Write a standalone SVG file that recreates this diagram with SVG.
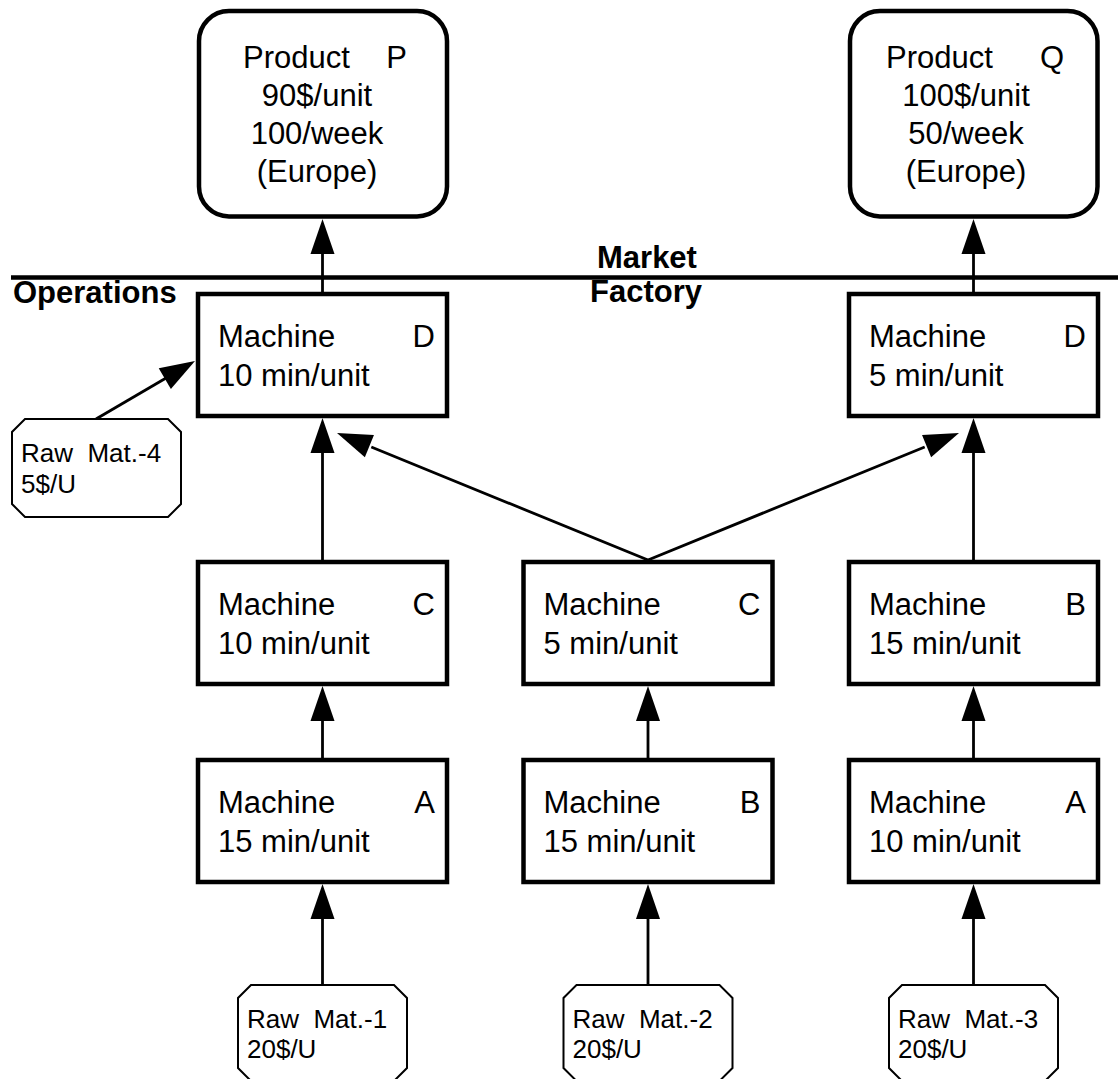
<svg xmlns="http://www.w3.org/2000/svg" width="1118" height="1079" viewBox="0 0 1118 1079">
<style>
.t{font-family:"Liberation Sans",Arial,sans-serif;font-size:31px;fill:#000}
.b{font-family:"Liberation Sans",Arial,sans-serif;font-size:31px;font-weight:bold;fill:#000}
.r{font-family:"Liberation Sans",Arial,sans-serif;font-size:26px;fill:#000;white-space:pre}
.box{fill:#fff;stroke:#000;stroke-width:4.5}
.oct{fill:#fff;stroke:#000;stroke-width:2}
.ln{stroke:#000;stroke-width:2.8;fill:none}
.ah{fill:#000;stroke:none}
.m{text-anchor:middle}
.e{text-anchor:end}
</style>
<rect width="1118" height="1079" fill="#fff"/>
<line x1="11" y1="277.5" x2="1118" y2="277.5" stroke="#000" stroke-width="4.5"/>
<text class="b" x="13" y="303">Operations</text>
<text class="b" x="597" y="268">Market</text>
<text class="b" x="590" y="302">Factory</text>

<g id="connectors">
<line class="ln" x1="322.5" y1="292" x2="322.5" y2="252"/>
<polygon class="ah" points="322.5,219 334.5,254 310.5,254"/>
<line class="ln" x1="973.5" y1="292" x2="973.5" y2="252"/>
<polygon class="ah" points="973.5,219 985.5,254 961.5,254"/>

<line class="ln" x1="322.5" y1="560" x2="322.5" y2="451"/>
<polygon class="ah" points="322.5,418 334.5,453 310.5,453"/>
<line class="ln" x1="322.5" y1="758" x2="322.5" y2="719"/>
<polygon class="ah" points="322.5,686 334.5,721 310.5,721"/>
<line class="ln" x1="322.5" y1="984" x2="322.5" y2="917"/>
<polygon class="ah" points="322.5,884 334.5,919 310.5,919"/>

<line class="ln" x1="648" y1="758" x2="648" y2="719"/>
<polygon class="ah" points="648,686 660,721 636,721"/>
<line class="ln" x1="648" y1="984" x2="648" y2="917"/>
<polygon class="ah" points="648,884 660,919 636,919"/>

<line class="ln" x1="973.5" y1="560" x2="973.5" y2="451"/>
<polygon class="ah" points="973.5,418 985.5,453 961.5,453"/>
<line class="ln" x1="973.5" y1="758" x2="973.5" y2="719"/>
<polygon class="ah" points="973.5,686 985.5,721 961.5,721"/>
<line class="ln" x1="973.5" y1="984" x2="973.5" y2="917"/>
<polygon class="ah" points="973.5,884 985.5,919 961.5,919"/>

<polyline class="ln" points="371.3,447 648,560 924.7,447"/>
<polygon class="ah" points="337,433 373.95,435.12 364.87,457.34"/>
<polygon class="ah" points="959,433 922.05,435.12 931.13,457.34"/>

<line class="ln" x1="96" y1="419" x2="166.5" y2="377.7"/>
<polygon class="ah" points="195,361 170.87,389.04 158.73,368.34"/>
</g>

<g id="productP">
<rect class="box" x="199" y="11" width="248" height="205.5" rx="30"/>
<text class="t" x="243" y="68">Product</text>
<text class="t e" x="407" y="68">P</text>
<text class="t m" x="317" y="106">90$/unit</text>
<text class="t m" x="317" y="144">100/week</text>
<text class="t m" x="317" y="182">(Europe)</text>
</g>
<g id="productQ">
<rect class="box" x="850" y="11" width="247.5" height="205.5" rx="30"/>
<text class="t" x="886" y="68">Product</text>
<text class="t e" x="1064" y="68">Q</text>
<text class="t m" x="966" y="106">100$/unit</text>
<text class="t m" x="966" y="144">50/week</text>
<text class="t m" x="966" y="182">(Europe)</text>
</g>

<g id="machineD1">
<rect class="box" x="198" y="294" width="249" height="122"/>
<text class="t" x="218" y="347">Machine</text><text class="t e" x="435" y="347">D</text>
<text class="t" x="218" y="386">10 min/unit</text>
</g>
<g id="machineD2">
<rect class="box" x="849" y="294" width="249" height="122"/>
<text class="t" x="869" y="347">Machine</text><text class="t e" x="1086" y="347">D</text>
<text class="t" x="869" y="386">5 min/unit</text>
</g>

<g id="machineC1">
<rect class="box" x="198" y="562" width="249" height="122"/>
<text class="t" x="218" y="615">Machine</text><text class="t e" x="435" y="615">C</text>
<text class="t" x="218" y="654">10 min/unit</text>
</g>
<g id="machineC2">
<rect class="box" x="523.5" y="562" width="249" height="122"/>
<text class="t" x="543.5" y="615">Machine</text><text class="t e" x="760.5" y="615">C</text>
<text class="t" x="543.5" y="654">5 min/unit</text>
</g>
<g id="machineB1">
<rect class="box" x="849" y="562" width="249" height="122"/>
<text class="t" x="869" y="615">Machine</text><text class="t e" x="1086" y="615">B</text>
<text class="t" x="869" y="654">15 min/unit</text>
</g>

<g id="machineA1">
<rect class="box" x="198" y="760" width="249" height="122"/>
<text class="t" x="218" y="813">Machine</text><text class="t e" x="435" y="813">A</text>
<text class="t" x="218" y="852">15 min/unit</text>
</g>
<g id="machineB2">
<rect class="box" x="523.5" y="760" width="249" height="122"/>
<text class="t" x="543.5" y="813">Machine</text><text class="t e" x="760.5" y="813">B</text>
<text class="t" x="543.5" y="852">15 min/unit</text>
</g>
<g id="machineA2">
<rect class="box" x="849" y="760" width="249" height="122"/>
<text class="t" x="869" y="813">Machine</text><text class="t e" x="1086" y="813">A</text>
<text class="t" x="869" y="852">10 min/unit</text>
</g>

<g id="raw4">
<polygon class="oct" points="25,419 168,419 181,432 181,504 168,517 25,517 12,504 12,432"/>
<text class="r" x="21" y="462" xml:space="preserve">Raw  Mat.-4</text>
<text class="r" x="21" y="493">5$/U</text>
</g>
<g id="raw1">
<polygon class="oct" points="251,985 394,985 407,998 407,1068 394,1081 251,1081 238,1068 238,998"/>
<text class="r" x="247" y="1028" xml:space="preserve">Raw  Mat.-1</text>
<text class="r" x="247" y="1058">20$/U</text>
</g>
<g id="raw2">
<polygon class="oct" points="576.5,985 719.5,985 732.5,998 732.5,1068 719.5,1081 576.5,1081 563.5,1068 563.5,998"/>
<text class="r" x="572.5" y="1028" xml:space="preserve">Raw  Mat.-2</text>
<text class="r" x="572.5" y="1058">20$/U</text>
</g>
<g id="raw3">
<polygon class="oct" points="902,985 1045,985 1058,998 1058,1068 1045,1081 902,1081 889,1068 889,998"/>
<text class="r" x="898" y="1028" xml:space="preserve">Raw  Mat.-3</text>
<text class="r" x="898" y="1058">20$/U</text>
</g>
</svg>
